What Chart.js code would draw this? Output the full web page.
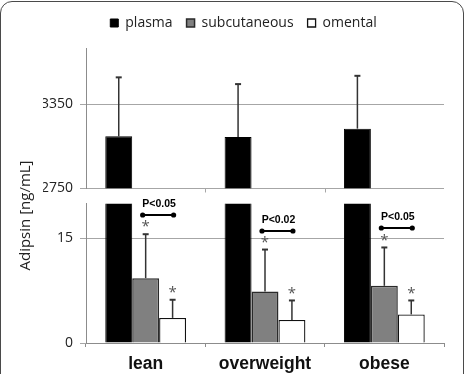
<!DOCTYPE html>
<html><head><meta charset="utf-8">
<script src="https://cdn.jsdelivr.net/npm/chart.js@4.4.1/dist/chart.umd.min.js"></script>
<style>
html,body{margin:0;padding:0;background:#fff;}
#wrap{position:relative;width:465px;height:374px;overflow:hidden;}
#frame{position:absolute;left:0;top:1px;width:464px;height:420px;border:1.5px solid #4a4a4a;border-radius:12px;box-sizing:border-box;pointer-events:none;}
canvas{position:absolute;left:0;top:0;}
</style></head><body>
<div id="wrap"><canvas id="c" width="465" height="374"></canvas><div id="frame"></div></div>
<script>
const categories = ['lean', 'overweight', 'obese'];
const plasma = [3121, 3117, 3176];
const plasmaSD = [420, 376, 376];
const subcutaneous = [9.3, 7.4, 8.2];
const subcutaneousSD = [6.3, 6.0, 5.5];
const omental = [3.6, 3.3, 4.1];
const omentalSD = [2.6, 2.8, 2.0];
const pLabels = ['P<0.05', 'P<0.02', 'P<0.05'];
const upperTicks = [2750, 3350];
const lowerTicks = [0, 15];
const yTitle = 'Adipsin [ng/mL]';

const FONT = '"Open Sans", "DejaVu Sans", sans-serif';

const clipPlugin = {
  id: 'clipToAxis',
  beforeDatasetDraw(chart, args) {
    const meta = chart.getDatasetMeta(args.index);
    const ys = meta.vScale;
    const a = chart.chartArea;
    chart.ctx.save();
    chart.ctx.beginPath();
    chart.ctx.rect(a.left - 2, ys.top, a.right - a.left + 4, ys.bottom - ys.top);
    chart.ctx.clip();
  },
  afterDatasetDraw(chart) {
    chart.ctx.restore();
  }
};

const annotPlugin = {
  id: 'annot',
  afterDatasetsDraw(chart) {
    const ctx = chart.ctx;
    const xs = chart.scales.x, yT = chart.scales.yTop, yB = chart.scales.yBot;
    const mP = chart.getDatasetMeta(0), mS = chart.getDatasetMeta(1), mO = chart.getDatasetMeta(2);
    ctx.save();
    const err = (bx, topPx, basePx) => {
      ctx.strokeStyle = '#333';
      ctx.lineWidth = 1.5;
      ctx.beginPath(); ctx.moveTo(bx, basePx); ctx.lineTo(bx, topPx); ctx.stroke();
      ctx.lineWidth = 2;
      ctx.beginPath(); ctx.moveTo(bx - 3, topPx); ctx.lineTo(bx + 3, topPx); ctx.stroke();
    };
    const star = (bx, topPx) => {
      ctx.fillStyle = '#555';
      ctx.font = '15px ' + FONT;
      ctx.textAlign = 'center';
      ctx.textBaseline = 'middle';
      ctx.fillText('*', bx, topPx - 7);
    };
    categories.forEach((c, i) => {
      const px = mP.data[i].x, sx = mS.data[i].x, ox = mO.data[i].x;
      err(px, yT.getPixelForValue(plasma[i] + plasmaSD[i]), yT.getPixelForValue(plasma[i]));
      const sTop = yB.getPixelForValue(subcutaneous[i] + subcutaneousSD[i]);
      const oTop = yB.getPixelForValue(omental[i] + omentalSD[i]);
      err(sx, sTop, yB.getPixelForValue(subcutaneous[i]));
      err(ox, oTop, yB.getPixelForValue(omental[i]));
      star(sx, sTop);
      star(ox, oTop);
      // significance bracket
      const by = Math.round(sTop - 19);
      const x1 = sx - 3, x2 = ox + 1;
      ctx.strokeStyle = '#000'; ctx.fillStyle = '#000';
      ctx.lineWidth = 2;
      ctx.beginPath(); ctx.moveTo(x1, by); ctx.lineTo(x2, by); ctx.stroke();
      [x1, x2].forEach(xx => { ctx.beginPath(); ctx.arc(xx, by, 2.6, 0, Math.PI * 2); ctx.fill(); });
      ctx.font = 'bold 10.5px "Liberation Sans", Arial, sans-serif';
      ctx.textAlign = 'center';
      ctx.textBaseline = 'middle';
      ctx.fillText(pLabels[i], (x1 + x2) / 2 + 1, by - 11);
    });
    // small category tick marks below upper panel
    ctx.strokeStyle = '#a6a6a6'; ctx.lineWidth = 1;
    for (let i = 0; i < categories.length - 1; i++) {
      const bx = Math.round((xs.getPixelForValue(i) + xs.getPixelForValue(i + 1)) / 2) + 0.5;
      ctx.beginPath(); ctx.moveTo(bx, yT.bottom); ctx.lineTo(bx, yT.bottom + 4); ctx.stroke();
    }
    // y axis title
    ctx.fillStyle = '#222';
    ctx.font = '15px ' + FONT;
    ctx.textAlign = 'center';
    ctx.textBaseline = 'middle';
    ctx.translate(26, (yT.top + yB.bottom) / 2 + 20);
    ctx.rotate(-Math.PI / 2);
    ctx.fillText(yTitle, 0, 0);
    ctx.restore();
  }
};

const gridCol = '#a6a6a6';
const axisCol = '#8c8c8c';
const tickFont = { family: FONT, size: 14 };
const plainTick = v => String(v);

new Chart(document.getElementById('c'), {
  type: 'bar',
  data: {
    labels: categories,
    datasets: [
      { label: 'plasma', data: plasma, yAxisID: 'yTop', stack: 'p', backgroundColor: '#000', borderColor: '#000', borderWidth: 1 },
      { label: 'subcutaneous', data: subcutaneous, yAxisID: 'yBot', stack: 's', backgroundColor: '#808080', borderColor: '#2a2a2a', borderWidth: 1.5 },
      { label: 'omental', data: omental, yAxisID: 'yBot', stack: 'o', backgroundColor: '#fff', borderColor: '#111', borderWidth: 1.3 },
      { label: 'plasma', data: plasma, yAxisID: 'yBot', stack: 'p', backgroundColor: '#000', borderColor: '#000', borderWidth: 1 }
    ]
  },
  options: {
    responsive: false,
    animation: false,
    devicePixelRatio: 1,
    categoryPercentage: 0.677,
    barPercentage: 1.0,
    layout: { padding: { top: 2, right: 21, left: 43, bottom: 0 } },
    plugins: {
      legend: {
        position: 'top',
        labels: {
          filter: item => item.datasetIndex !== 3,
          boxWidth: 8, boxHeight: 8,
          font: { family: FONT, size: 14 },
          color: '#222',
          padding: 14
        }
      },
      tooltip: { enabled: false }
    },
    scales: {
      x: {
        stacked: true,
        grid: { drawOnChartArea: false, drawTicks: true, tickLength: 4, color: axisCol },
        border: { color: axisCol },
        ticks: { font: { family: '"Liberation Sans", Arial, sans-serif', size: 17.5, weight: 'bold' }, color: '#111', padding: 7 },
        afterFit: s => { s.height = 31; }
      },
      xPad: {
        type: 'linear', position: 'top', axis: 'x',
        grid: { display: false, drawTicks: false },
        border: { display: false },
        ticks: { display: false },
        afterFit: s => { s.height = 8; }
      },
      yBot: {
        type: 'linear', position: 'left', stack: 'v', stackWeight: 139, stacked: false,
        min: 0, max: 20,
        afterBuildTicks: s => { s.ticks = lowerTicks.map(v => ({ value: v })); },
        grid: { color: gridCol, tickLength: 6 },
        border: { color: axisCol },
        ticks: { font: tickFont, color: '#222', padding: 7, callback: plainTick },
        afterFit: s => { s.width = 43; }
      },
      yGap: {
        type: 'linear', position: 'left', stack: 'v', stackWeight: 15,
        min: 0, max: 1,
        afterBuildTicks: s => { s.ticks = []; },
        grid: { display: false, drawTicks: false },
        border: { display: false },
        ticks: { display: false },
        afterFit: s => { s.width = 43; }
      },
      yTop: {
        type: 'linear', position: 'left', stack: 'v', stackWeight: 140, stacked: false,
        min: 2750, max: 3750,
        afterBuildTicks: s => { s.ticks = upperTicks.map(v => ({ value: v })); },
        grid: { color: gridCol, tickLength: 6 },
        border: { color: axisCol },
        ticks: { font: tickFont, color: '#222', padding: 7, callback: plainTick },
        afterFit: s => { s.width = 43; }
      }
    }
  },
  plugins: [clipPlugin, annotPlugin]
});
</script>
</body></html>
